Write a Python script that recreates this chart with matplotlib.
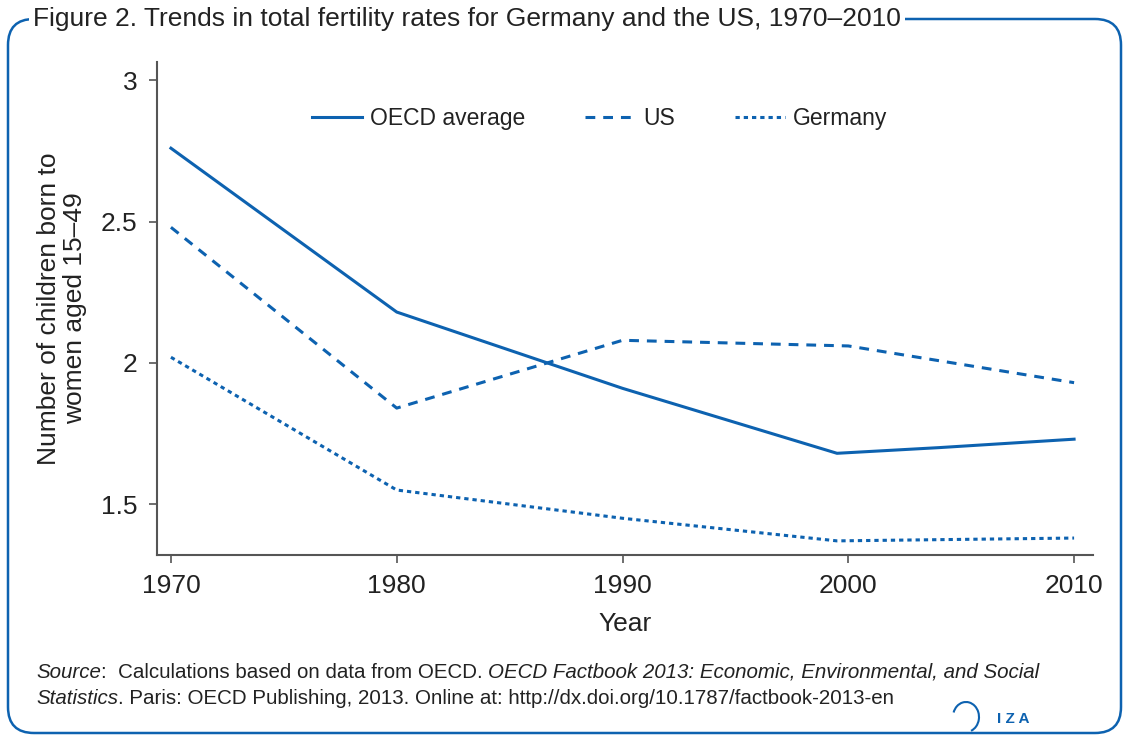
import matplotlib
matplotlib.use("Agg")
import matplotlib.pyplot as plt
from matplotlib.patches import FancyBboxPatch, Arc
from matplotlib.transforms import IdentityTransform

plt.rcParams['font.family'] = ['Liberation Sans', 'DejaVu Sans']

blue = '#0d62b0'
grey = '#555555'
ink = '#222222'

# values
oecd_years = [1970, 1980, 1990, 1999.5, 2004, 2010]
oecd_tfr = [2.76, 2.18, 1.91, 1.68, 1.70, 1.73]

us_years = [1970, 1980, 1990, 2000, 2010]
us_tfr = [2.48, 1.84, 2.08, 2.06, 1.93]

de_years = [1970, 1980, 1990, 1999.5, 2010]
de_tfr = [2.02, 1.55, 1.45, 1.37, 1.38]

xticks = [1970, 1980, 1990, 2000, 2010]
yticks = [1.5, 2, 2.5, 3]
ytick_labels = ['1.5', '2', '2.5', '3']

title = 'Figure 2. Trends in total fertility rates for Germany and the US, 1970\u20132010'
source_line1 = [('Source', 'italic'), (':  Calculations based on data from OECD. ', 'normal'),
                ('OECD Factbook 2013: Economic, Environmental, and Social', 'italic')]
source_line2 = [('Statistics', 'italic'),
                ('. Paris: OECD Publishing, 2013. Online at: http://dx.doi.org/10.1787/factbook-2013-en', 'normal')]

fig = plt.figure(figsize=(11.25, 7.35), dpi=100)
ax = fig.add_axes([0.1393, 0.2449, 0.8323, 0.6707])

ax.plot(oecd_years, oecd_tfr, color=blue, lw=2.2, label='OECD average')
ax.plot(us_years, us_tfr, color=blue, lw=2.2, dashes=(3.2, 2.6), label='US')
ax.plot(de_years, de_tfr, color=blue, lw=2.2, dashes=(1.4, 1.3), label='Germany')

ax.set_xlim(1969.37, 2010.84)
ax.set_ylim(1.32, 3.065)
ax.set_xticks(xticks)
ax.set_yticks(yticks)
ax.set_yticklabels(ytick_labels)
for s in ['top', 'right']:
    ax.spines[s].set_visible(False)
for s in ['left', 'bottom']:
    ax.spines[s].set_color(grey)
    ax.spines[s].set_linewidth(1.5)
ax.tick_params(direction='out', length=6, width=1.2, color=grey,
               labelsize=19, labelcolor=ink, pad=8)
ax.set_xlabel('Year', fontsize=19, color=ink, labelpad=10)
ax.set_ylabel('Number of children born to\nwomen aged 15\u201349', fontsize=19,
              color=ink, labelpad=10, linespacing=1.1)

ax.legend(loc='center', bbox_to_anchor=(0.473, 0.886), ncol=3, frameon=False,
          fontsize=16.5, handlelength=2.2, handletextpad=0.35, columnspacing=2.6,
          labelcolor=ink)

# rounded frame in pixel coordinates
frame = FancyBboxPatch((8, 2), 1113, 714, boxstyle='round,pad=0,rounding_size=26',
                       transform=IdentityTransform(), fill=False, edgecolor=blue,
                       lw=1.8, zorder=0)
fig.patches.append(frame)

fig.text(33 / 1125, 1 - 19 / 735, title, fontsize=19, color=ink,
         ha='left', va='center',
         bbox=dict(facecolor='white', edgecolor='none', pad=3))

# source note, pieces placed one after another
renderer = fig.canvas.get_renderer()
for line, ypix in [(source_line1, 672), (source_line2, 698)]:
    xpix = 36
    for txt, style in line:
        t = fig.text(xpix / 1125, 1 - ypix / 735, txt, fontsize=14.8, style=style,
                     color=ink, ha='left', va='center')
        xpix += t.get_window_extent(renderer).width

# IZA mark
fig.patches.append(Arc((966, 18), 26, 30, theta1=-70, theta2=160,
                       transform=IdentityTransform(), color=blue, lw=1.5))
fig.text(997 / 1125, 1 - 719 / 735, 'I Z A', fontsize=11, fontweight='bold',
         color=blue, ha='left', va='center')

fig.savefig('out.png', dpi=100)
